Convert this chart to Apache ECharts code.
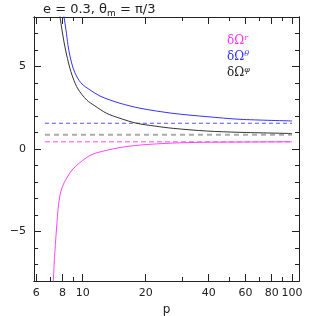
<!DOCTYPE html>
<html><head><meta charset="utf-8">
<script src="https://cdn.jsdelivr.net/npm/echarts@6/dist/echarts.min.js"></script>
<style>html,body{margin:0;padding:0;background:#fff}#c{width:316px;height:316px}</style>
</head><body><div id="c"></div>
<script>
// tick values
const xMajorTicks = [6, 8, 10, 20, 40, 60, 80, 100];
const xMinorTicks = [7, 9, 30, 50, 70, 90];
const yMajorTicks = [-5, 0, 5];
const yMinorTicks = [-8, -7, -6, -4, -3, -2, -1, 1, 2, 3, 4, 6, 7, 8];
const xMin = 5.85, xMax = 108, yMin = -8, yMax = 8;

// delta Omega^r (magenta)
const pR = [7.19, 7.23, 7.37, 7.50, 7.66, 7.87, 8.14, 8.50, 8.89, 9.71, 10.83, 11.83, 13.02, 15.07, 18.78, 27.0, 39.2, 56.4, 100];
const vR = [-8.6, -8.0, -6.12, -4.79, -3.39, -2.55, -2.06, -1.64, -1.27, -0.82, -0.39, -0.21, -0.08, 0.09, 0.24, 0.36, 0.41, 0.42, 0.44];
// delta Omega^theta (blue)
const pTh = [8.05, 8.14, 8.32, 8.50, 8.69, 8.99, 9.39, 9.92, 10.83, 12.09, 13.5, 15.07, 18.78, 27.0, 39.2, 56.4, 100];
const vTh = [8.4, 8.0, 7.21, 6.30, 5.64, 4.91, 4.36, 3.94, 3.58, 3.21, 2.97, 2.77, 2.47, 2.16, 1.96, 1.80, 1.70];
// delta Omega^phi (black)
const pPh = [7.70, 7.79, 7.96, 8.14, 8.32, 8.60, 8.99, 9.49, 10.45, 11.44, 13.02, 15.07, 18.1, 22.1, 27.1, 39.1, 56.4, 100];
const vPh = [8.4, 8.0, 7.21, 6.48, 5.88, 5.09, 4.30, 3.64, 2.97, 2.61, 2.16, 1.86, 1.56, 1.39, 1.25, 1.09, 1.01, 0.94];
// asymptotes (dashed)
const pAsym = [6.6, 100];
const asymR = 0.44, asymTh = 1.56, asymPh = 0.87;

const L = Math.log10;
const pts = (ps, vs) => ps.map((p, i) => [L(p), vs[i]]);
const flat = (ps, v) => ps.map(p => [L(p), v]);

const FONT = 'DejaVu Sans';
const AXC = '#222';

function xAx(pos, ticks, len, label) {
  return {
    type: 'value', position: pos, min: L(xMin), max: L(xMax),
    axisLine: { show: true, onZero: false, lineStyle: { color: AXC, width: 1 } },
    axisTick: { show: true, inside: true, length: len, customValues: ticks.map(L), lineStyle: { color: AXC } },
    axisLabel: label ? { show: true, customValues: ticks.map(L), margin: 7, fontFamily: FONT, fontSize: 11, color: '#222',
      formatter: v => String(Math.round(Math.pow(10, v))) } : { show: false },
    splitLine: { show: false },
    name: label ? 'p' : '', nameLocation: 'middle', nameGap: 17,
    nameTextStyle: { fontFamily: FONT, fontSize: 12, color: '#222' }
  };
}
function yAx(pos, ticks, len, label) {
  return {
    type: 'value', position: pos, min: yMin, max: yMax,
    axisLine: { show: true, onZero: false, lineStyle: { color: AXC, width: 1 } },
    axisTick: { show: true, inside: true, length: len, customValues: ticks, lineStyle: { color: AXC } },
    axisLabel: label ? { show: true, customValues: ticks, margin: 8, fontFamily: FONT, fontSize: 11, color: '#222',
      formatter: v => v < 0 ? '\u2212' + Math.abs(v) : String(v) } : { show: false },
    splitLine: { show: false },
    name: label ? '(1/B{sub|2}) \u00d7 p{sup|7/2} \u00d7 \u03b4\u03a9' : '',
    nameLocation: 'middle', nameGap: 24, nameRotate: 90,
    nameTextStyle: { fontFamily: FONT, fontSize: 12, color: '#222',
      rich: { sub: { fontFamily: FONT, fontSize: 8, color: '#222', verticalAlign: 'bottom', padding: [7, 0, 0, 0] },
              sup: { fontFamily: FONT, fontSize: 8, color: '#222', verticalAlign: 'top', padding: [0, 0, 7, 0] } } }
  };
}

const chart = echarts.init(document.getElementById('c'), null, { renderer: 'canvas' });
chart.setOption({
  animation: false,
  backgroundColor: '#fff',
  grid: { left: 34, right: 17, top: 17, bottom: 35, containLabel: false, outerBoundsMode: 'none' },
  title: {
    text: 'e = 0.3, \u03b8{sub|m} = \u03c0/3', left: 43, top: 2, padding: 0,
    textStyle: { fontFamily: FONT, fontSize: 13, fontWeight: 'normal', color: '#222',
      rich: { sub: { fontFamily: FONT, fontSize: 9, color: '#222', verticalAlign: 'bottom', padding: [7, 0, 0, 0] } } }
  },
  xAxis: [xAx('bottom', xMajorTicks, 7, true), xAx('bottom', xMinorTicks, 4, false),
          xAx('top', xMajorTicks, 7, false), xAx('top', xMinorTicks, 4, false)],
  yAxis: [yAx('left', yMajorTicks, 7, true), yAx('left', yMinorTicks, 4, false),
          yAx('right', yMajorTicks, 7, false), yAx('right', yMinorTicks, 4, false)],
  series: [
    { type: 'line', name: 'asym-theta', data: flat(pAsym, asymTh), showSymbol: false, symbol: 'none',
      lineStyle: { color: '#5555ff', width: 1, type: [4, 3] } },
    { type: 'line', name: 'asym-phi', data: flat(pAsym, asymPh), showSymbol: false, symbol: 'none',
      lineStyle: { color: '#aaaaaa', width: 2, type: [5, 4] } },
    { type: 'line', name: 'asym-r', data: flat(pAsym, asymR), showSymbol: false, symbol: 'none',
      lineStyle: { color: '#ff88ff', width: 1.5, type: [5, 3] } },
    { type: 'line', name: '\u03b4\u03a9r', data: pts(pR, vR), showSymbol: false, symbol: 'none', smooth: 0.3,
      lineStyle: { color: '#ff44ff', width: 1 } },
    { type: 'line', name: '\u03b4\u03a9\u03b8', data: pts(pTh, vTh), showSymbol: false, symbol: 'none', smooth: 0.3,
      lineStyle: { color: '#3333ff', width: 1 } },
    { type: 'line', name: '\u03b4\u03a9\u03c6', data: pts(pPh, vPh), showSymbol: false, symbol: 'none', smooth: 0.3,
      lineStyle: { color: '#333333', width: 1 } }
  ],
  graphic: [
    { type: 'text', left: 227, top: 34, style: { text: '\u03b4\u03a9{s|r}', fill: '#ff33ff', font: '12px DejaVu Serif',
      rich: { s: { fill: '#ff33ff', font: 'italic 8px DejaVu Serif', verticalAlign: 'top', padding: [0, 0, 6, 0] } } } },
    { type: 'text', left: 227, top: 50, style: { text: '\u03b4\u03a9{s|\u03b8}', fill: '#3333ff', font: '12px DejaVu Serif',
      rich: { s: { fill: '#3333ff', font: 'italic 8px DejaVu Serif', verticalAlign: 'top', padding: [0, 0, 6, 0] } } } },
    { type: 'text', left: 227, top: 66, style: { text: '\u03b4\u03a9{s|\u03c6}', fill: '#222', font: '12px DejaVu Serif',
      rich: { s: { fill: '#222', font: 'italic 8px DejaVu Serif', verticalAlign: 'top', padding: [0, 0, 6, 0] } } } }
  ]
});
</script></body></html>
